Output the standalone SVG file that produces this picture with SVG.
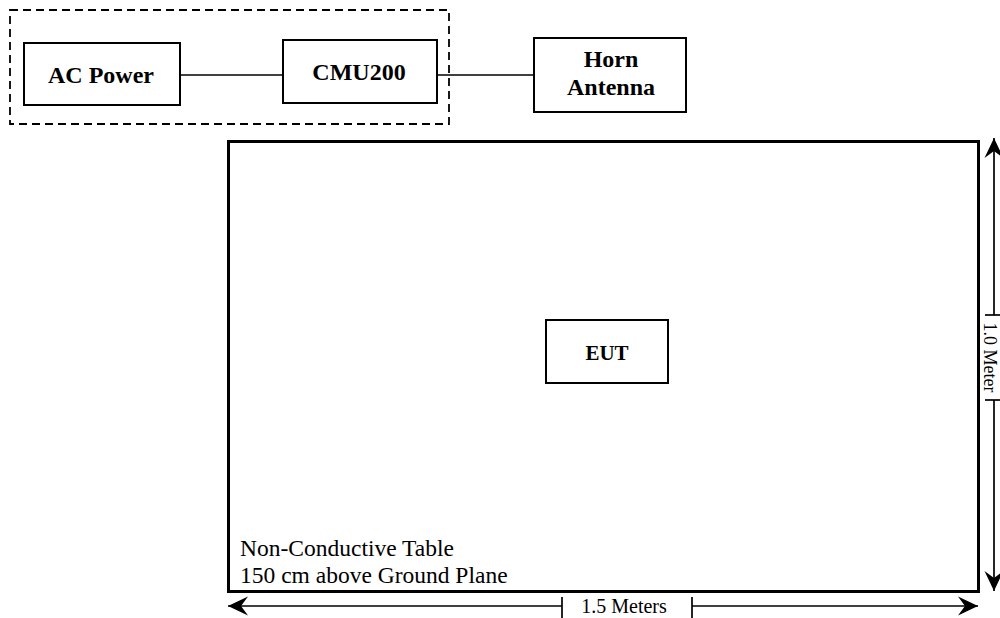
<svg xmlns="http://www.w3.org/2000/svg" width="1000" height="618" viewBox="0 0 1000 618">
<style>
.box{fill:#fff;stroke:#000;stroke-width:2}
.lbl{font-family:"Liberation Serif","Times New Roman",serif;font-weight:bold;font-size:24px;text-anchor:middle;fill:#000}
.txt{font-family:"Liberation Serif","Times New Roman",serif;font-size:23.5px;fill:#000}
.dim{font-family:"Liberation Serif","Times New Roman",serif;font-size:20px;fill:#000}
.ln{stroke:#000;stroke-width:1.7;fill:none}
</style>
<defs>
<marker id="ah" viewBox="-22 -10 24 20" refX="0" refY="0" markerWidth="24" markerHeight="20" markerUnits="userSpaceOnUse" orient="auto">
<path d="M0,0 L-20,-9.5 L-13,0 L-20,9.5 Z" fill="#000"/>
</marker>
</defs>
<rect x="10" y="10" width="439" height="114" fill="none" stroke="#000" stroke-width="1.8" stroke-dasharray="8,5"/>
<g id="connectors">
<line class="ln" x1="180" y1="75" x2="283" y2="75"/>
<line class="ln" x1="437" y1="75" x2="534" y2="75"/>
</g>
<g id="ac-power">
<rect class="box" x="24" y="43" width="156" height="62"/>
<text class="lbl" x="101" y="83">AC Power</text>
</g>
<g id="cmu200">
<rect class="box" x="283" y="40" width="154" height="63"/>
<text class="lbl" x="359" y="80">CMU200</text>
</g>
<g id="horn-antenna">
<rect class="box" x="534" y="38" width="152" height="74"/>
<text class="lbl" x="611" y="67">Horn</text>
<text class="lbl" x="611" y="95">Antenna</text>
</g>
<g id="table">
<rect x="228.5" y="141.5" width="750" height="450" fill="none" stroke="#000" stroke-width="3"/>
<text class="txt" x="240" y="556">Non-Conductive Table</text>
<text class="txt" x="240" y="583">150 cm above Ground Plane</text>
</g>
<g id="eut">
<rect class="box" x="546" y="320" width="122" height="63"/>
<text class="lbl" x="607" y="360" style="font-size:21px">EUT</text>
</g>
<g id="dimensions">
<line class="ln" x1="562" y1="606" x2="228" y2="606" marker-end="url(#ah)"/>
<line class="ln" x1="692" y1="606" x2="978" y2="606" marker-end="url(#ah)"/>
<line class="ln" x1="562" y1="597" x2="562" y2="618"/>
<line class="ln" x1="692" y1="597" x2="692" y2="618"/>
<text class="dim" x="624" y="613" text-anchor="middle">1.5 Meters</text>
<line class="ln" x1="994" y1="315" x2="994" y2="138" marker-end="url(#ah)"/>
<line class="ln" x1="994" y1="400" x2="994" y2="591" marker-end="url(#ah)"/>
<line class="ln" x1="985" y1="315" x2="1000" y2="315"/>
<line class="ln" x1="985" y1="400" x2="1000" y2="400"/>
<text class="dim" transform="translate(983.5,357.5) rotate(90)" text-anchor="middle" style="font-size:18px">1.0 Meter</text>
</g>
</svg>
